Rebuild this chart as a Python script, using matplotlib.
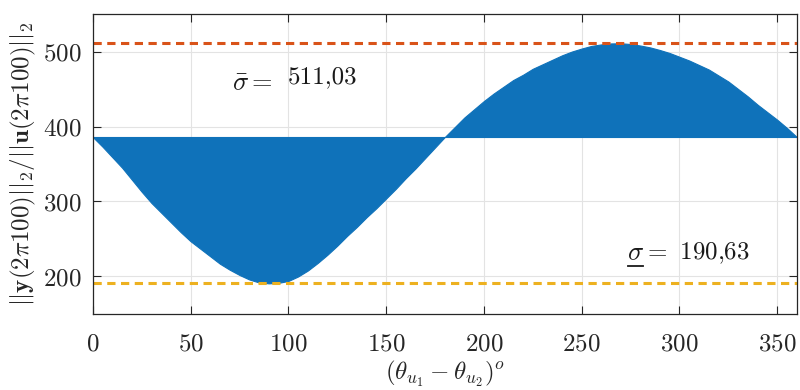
import matplotlib
matplotlib.use("Agg")
import matplotlib.pyplot as plt
from matplotlib.lines import Line2D

plt.rcParams['font.family'] = 'serif'
plt.rcParams['font.serif'] = ['cmr10', 'DejaVu Serif']
plt.rcParams['mathtext.fontset'] = 'cm'
plt.rcParams['axes.formatter.use_mathtext'] = True

# Data
theta_low = [0, 5, 10, 15, 20, 25, 30, 35, 40, 45, 50, 55, 60, 65, 70, 75, 80, 85, 90,
             95, 100, 105, 110, 115, 120, 125, 130, 135, 140, 145, 150, 155, 160, 165,
             170, 175, 180]
gain_low = [386, 373, 359, 345, 329, 313, 298, 285, 272, 259, 247, 237, 227, 217, 209,
            202, 196, 192, 190.8, 191.5, 194, 200, 208, 218, 229, 241, 254, 266, 279,
            291, 304, 317, 331, 344, 358, 372, 386]
theta_high = [180, 185, 190, 195, 200, 205, 210, 215, 220, 225, 230, 235, 240, 245, 250,
              255, 260, 265, 270, 275, 280, 285, 290, 295, 300, 305, 310, 315, 320, 325,
              330, 335, 340, 345, 350, 355, 360]
gain_high = [386, 399, 412, 423, 434, 444, 453, 462, 469, 477, 483, 489, 495, 500, 504,
             507.5, 509.5, 510.8, 511, 510, 508, 505.5, 502, 498, 493, 488, 482, 476, 468,
             460, 450, 440, 429, 419, 409, 398, 386]
baseline = 386
sigma_max = 511.03
sigma_min = 190.63
xticks = [0, 50, 100, 150, 200, 250, 300, 350]
yticks = [200, 300, 400, 500]

blue = '#0f72ba'
red = '#D95319'
orange = '#EDB120'
dark = '#262626'

fig = plt.figure(figsize=(8, 3.9), dpi=100)
ax = fig.add_axes([0.116, 0.195, 0.880, 0.769])

ax.fill_between(theta_low, gain_low, baseline, color=blue, linewidth=0.8, edgecolor=blue)
ax.fill_between(theta_high, baseline, gain_high, color=blue, linewidth=0.8, edgecolor=blue)

ax.axhline(sigma_max, color=red, lw=2.2, dashes=(2.7, 1.8))
ax.axhline(sigma_min, color=orange, lw=2.2, dashes=(2.7, 1.8))

ax.set_xlim(0, 360)
ax.set_ylim(150, 550)
ax.set_xticks(xticks)
ax.set_yticks(yticks)
ax.grid(True, color='#e3e3e3', lw=0.8)
ax.set_axisbelow(True)
ax.tick_params(direction='in', length=6, width=0.8, colors=dark, labelsize=18,
               top=True, right=True, pad=8)
ax.tick_params(axis='x', pad=14)
for s in ax.spines.values():
    s.set_color(dark)
    s.set_linewidth(0.9)

ax.set_xlabel(r'$(\theta_{u_1}-\theta_{u_2})^o$', fontsize=18, color=dark, labelpad=2)
ax.set_ylabel(r'$||\mathbf{y}(2\pi100)||_2/||\mathbf{u}(2\pi100)||_2$', fontsize=18,
              color=dark, labelpad=4)

ax.text(71, 458, r'$\bar{\sigma} =$', fontsize=19, color='#1a1a1a', va='center', ha='left')
ax.text(99.5, 466, '511,03', fontsize=18, color='#1a1a1a', va='center', ha='left')

t_sig = ax.text(273, 231, r'$\sigma$', fontsize=19, color='#1a1a1a', va='center', ha='left')
ax.text(281.5, 231, r'$=$ 190,63', fontsize=18, color='#1a1a1a', va='center', ha='left')

fig.canvas.draw()
bb = t_sig.get_window_extent()
inv = fig.transFigure.inverted()
(x0, y0) = inv.transform((bb.x0 + 1, bb.y0 - 1))
(x1, _) = inv.transform((bb.x1 - 1, bb.y0 - 1))
fig.add_artist(Line2D([x0, x1], [y0, y0], transform=fig.transFigure, color='#1a1a1a', lw=1.3))

fig.savefig('out.png', dpi=100)
